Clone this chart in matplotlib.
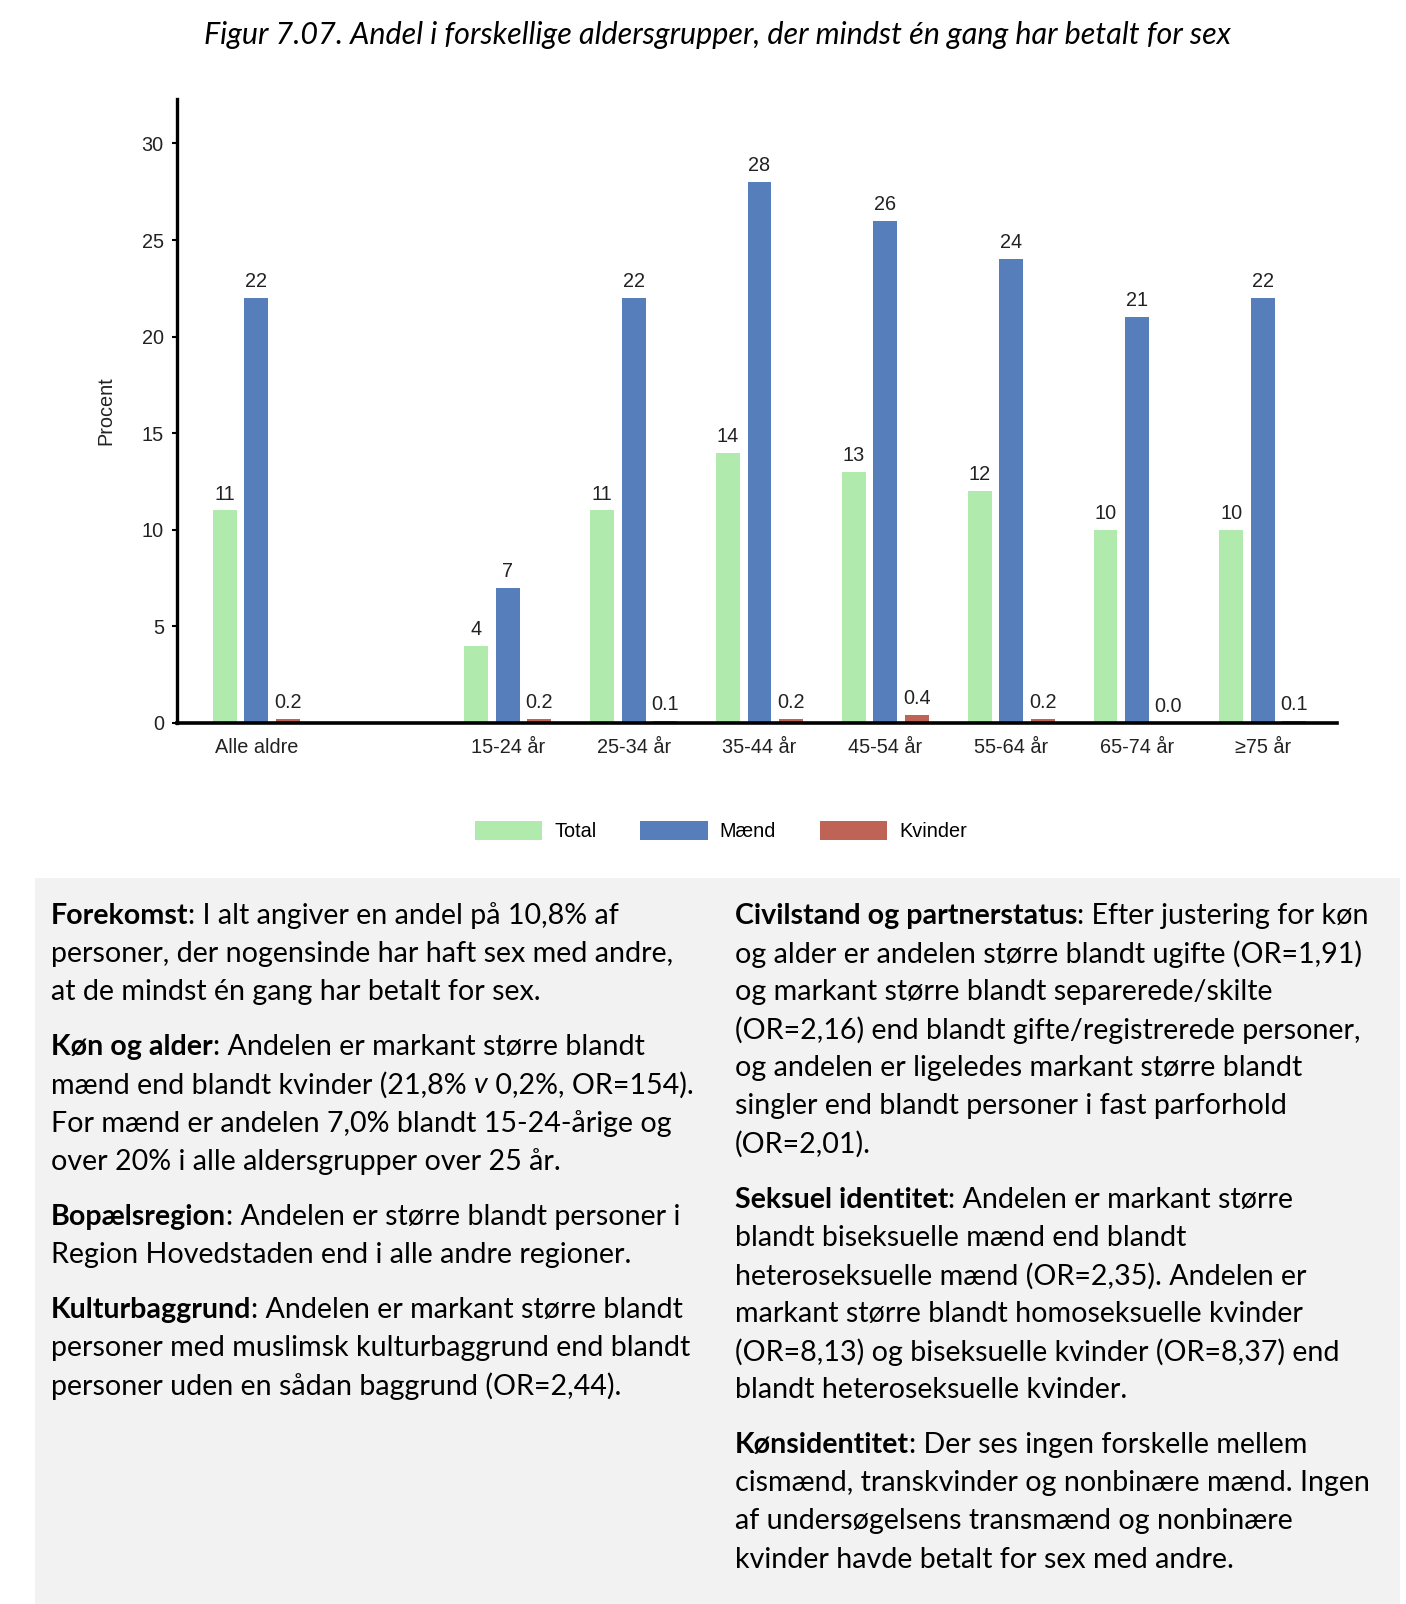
import numpy as np
import matplotlib
matplotlib.use('Agg')
import matplotlib.pyplot as plt
from matplotlib.patches import Rectangle
from matplotlib.text import Annotation

plt.rcParams['font.family'] = ['Liberation Sans', 'DejaVu Sans']

# data
labels = ['Alle aldre', '15-24 år', '25-34 år', '35-44 år', '45-54 år', '55-64 år', '65-74 år', '≥75 år']
slots = [0, 2, 3, 4, 5, 6, 7, 8]   # empty slot after "Alle aldre"
total = [11, 4, 11, 14, 13, 12, 10, 10]
maend = [22, 7, 22, 28, 26, 24, 21, 22]
kvinder = [0.2, 0.2, 0.1, 0.2, 0.4, 0.2, 0.0, 0.1]

title = 'Figur 7.07. Andel i forskellige aldersgrupper, der mindst én gang har betalt for sex'

# text panel: each paragraph is a list of lines, each line a list of (text, style)
left_col = [
    [[('Forekomst', 'b'), (': I alt angiver en andel på 10,8% af', 'n')],
     [('personer, der nogensinde har haft sex med andre,', 'n')],
     [('at de mindst én gang har betalt for sex.', 'n')]],
    [[('Køn og alder', 'b'), (': Andelen er markant større blandt', 'n')],
     [('mænd end blandt kvinder (21,8% ', 'n'), ('v', 'i'), (' 0,2%, OR=154).', 'n')],
     [('For mænd er andelen 7,0% blandt 15-24-årige og', 'n')],
     [('over 20% i alle aldersgrupper over 25 år.', 'n')]],
    [[('Bopælsregion', 'b'), (': Andelen er større blandt personer i', 'n')],
     [('Region Hovedstaden end i alle andre regioner.', 'n')]],
    [[('Kulturbaggrund', 'b'), (': Andelen er markant større blandt', 'n')],
     [('personer med muslimsk kulturbaggrund end blandt', 'n')],
     [('personer uden en sådan baggrund (OR=2,44).', 'n')]],
]
right_col = [
    [[('Civilstand og partnerstatus', 'b'), (': Efter justering for køn', 'n')],
     [('og alder er andelen større blandt ugifte (OR=1,91)', 'n')],
     [('og markant større blandt separerede/skilte', 'n')],
     [('(OR=2,16) end blandt gifte/registrerede personer,', 'n')],
     [('og andelen er ligeledes markant større blandt', 'n')],
     [('singler end blandt personer i fast parforhold', 'n')],
     [('(OR=2,01).', 'n')]],
    [[('Seksuel identitet', 'b'), (': Andelen er markant større', 'n')],
     [('blandt biseksuelle mænd end blandt', 'n')],
     [('heteroseksuelle mænd (OR=2,35). Andelen er', 'n')],
     [('markant større blandt homoseksuelle kvinder', 'n')],
     [('(OR=8,13) og biseksuelle kvinder (OR=8,37) end', 'n')],
     [('blandt heteroseksuelle kvinder.', 'n')]],
    [[('Kønsidentitet', 'b'), (': Der ses ingen forskelle mellem', 'n')],
     [('cismænd, transkvinder og nonbinære mænd. Ingen', 'n')],
     [('af undersøgelsens transmænd og nonbinære', 'n')],
     [('kvinder havde betalt for sex med andre.', 'n')]],
]

c_total = '#b0eaac'
c_maend = '#567ebb'
c_kvinder = '#c06357'

W, H = 1406, 1604
fig = plt.figure(figsize=(W / 100, H / 100), dpi=100)

# title
fig.text(717 / W, 1 - 35 / H, title, ha='center', va='center', fontsize=22,
         family='Lato', style='italic', color='black')

# chart
afs = 14.3
ax = fig.add_axes([177 / W, 1 - 723 / H, (1337 - 177) / W, (723 - 99) / H])
x = np.array(slots, dtype=float)
w = 0.19
off = 0.25
b1 = ax.bar(x - off, total, w, color=c_total, label='Total')
b2 = ax.bar(x, maend, w, color=c_maend, label='Mænd')
b3 = ax.bar(x + off, kvinder, w, color=c_kvinder, label='Kvinder')

for rects, vals, fmt in [(b1, total, '{:.0f}'), (b2, maend, '{:.0f}'), (b3, kvinder, '{:.1f}')]:
    for r, v in zip(rects, vals):
        ax.annotate(fmt.format(v), xy=(r.get_x() + r.get_width() / 2, v),
                    xytext=(0, 5), textcoords='offset points',
                    ha='center', va='bottom', fontsize=afs, color='#222222')

ax.set_xlim(-0.63, 8.59)
ax.set_ylim(0, 32.3)
ax.set_yticks([0, 5, 10, 15, 20, 25, 30])
ax.set_xticks(x)
ax.set_xticklabels(labels)
ax.tick_params(axis='x', length=0, pad=11, labelsize=afs, labelcolor='#222222')
ax.tick_params(axis='y', length=3.5, width=1.5, pad=6, labelsize=afs, labelcolor='#222222')
for s in ['top', 'right']:
    ax.spines[s].set_visible(False)
ax.spines['left'].set_linewidth(2.4)
ax.spines['bottom'].set_linewidth(2.6)
ax.set_ylabel('Procent', fontsize=afs, color='#222222', labelpad=19)

fig.legend(handles=[b1, b2, b3], loc='center', bbox_to_anchor=(721 / W, 1 - 831 / H),
           ncol=3, frameon=False, fontsize=afs, handlelength=3.4, handleheight=1.14,
           handletextpad=0.6, columnspacing=2.2)

# grey text panel
fig.patches.append(Rectangle((35 / W, 0), (1400 - 35) / W, (1604 - 878) / H,
                             transform=fig.transFigure, facecolor='#f2f2f2',
                             edgecolor='none', zorder=0))

fs = 20.6
line_h = 38.1
gap = 17


def draw_col(col, x0, y0):
    y = y0
    for para in col:
        for line in para:
            last = None
            for txt, st in line:
                kw = dict(fontsize=fs, family='Lato', color='black', va='center', ha='left')
                if st == 'b':
                    kw['weight'] = 'bold'
                if st == 'i':
                    kw['style'] = 'italic'
                if last is None:
                    last = fig.text(x0 / W, 1 - y / H, txt, **kw)
                else:
                    last = fig.add_artist(Annotation(txt, xy=(1, 0.5), xycoords=last, **kw))
            y += line_h
        y += gap


draw_col(left_col, 51, 916)
draw_col(right_col, 735, 916)

fig.savefig('out.png', dpi=100)
